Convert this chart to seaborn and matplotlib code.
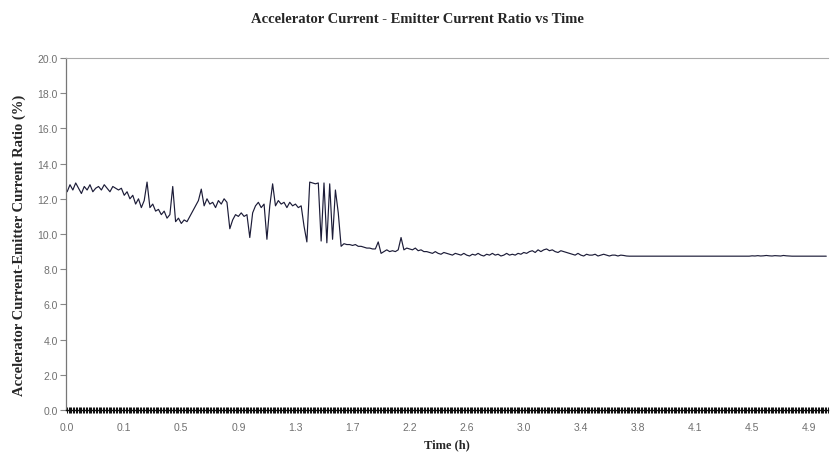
import matplotlib
matplotlib.use("Agg")
import matplotlib.pyplot as plt
import seaborn as sns
import numpy as np
import pandas as pd

# ---- data (one value per category) ----
seg_start = [12.4, 12.8, 12.5, 12.9, 12.6, 12.3, 12.7, 12.5, 12.8, 12.4,
             12.6, 12.7, 12.5, 12.8, 12.6, 12.4, 12.7, 12.6]
seg_decline = [12.5, 12.6, 12.2, 12.4, 12.0, 12.2, 11.7, 12.0, 11.5, 11.9,
               12.95, 11.5, 11.7, 11.3, 11.4, 11.1, 11.3, 10.9, 11.1, 12.7]
seg_mid = [10.7, 10.9, 10.6, 10.8, 10.7, 11.0,
           11.3, 11.6, 11.9, 12.55, 11.6, 12.0, 11.7, 11.8, 11.5, 11.9, 11.7, 12.0, 11.8,
           10.3,
           10.8, 11.1, 11.0, 11.2, 11.0, 11.1,
           9.8,
           11.2, 11.6, 11.8, 11.5, 11.7,
           9.7, 11.6, 12.85,
           11.6, 11.9, 11.7, 11.8, 11.5, 11.8, 11.6, 11.7, 11.5, 11.6,
           10.45, 9.55]
seg_unstable = [12.95, 12.9, 12.85, 12.9, 9.6, 12.9, 9.5, 12.85, 9.7, 12.5, 11.2]
seg_drop = [9.3, 9.45, 9.4, 9.4, 9.35, 9.4, 9.3, 9.3, 9.25, 9.2, 9.2, 9.15, 9.15,
            9.55, 8.9,
            9.0, 9.1, 9.0, 9.05, 9.0, 9.1,
            9.8,
            9.1, 9.2, 9.15, 9.1, 9.2, 9.05, 9.1, 9.0]
seg_settle = [9.0, 8.95, 8.9, 9.0, 8.9, 8.85, 8.95, 8.9, 8.85, 8.8,
              8.9, 8.85, 8.8, 8.9, 8.8, 8.75, 8.85, 8.8, 8.9, 8.8,
              8.75, 8.85, 8.8, 8.9, 8.8, 8.85, 8.75, 8.8, 8.9, 8.8,
              8.85, 8.8, 8.9, 8.85, 8.95,
              8.9, 9.0, 9.05, 8.95, 9.1, 9.0, 9.1, 9.15, 9.05, 9.1,
              9.0, 8.95, 9.05, 9.0, 8.95, 8.9,
              8.85, 8.8, 8.9, 8.8, 8.75, 8.85, 8.8, 8.8, 8.85, 8.75,
              8.8, 8.85, 8.8, 8.75, 8.8, 8.8, 8.75, 8.8, 8.78, 8.75]
seg_flat = [8.74, 8.74, 8.74, 8.74, 8.74, 8.74, 8.74, 8.74, 8.74, 8.74,
            8.74, 8.74, 8.74, 8.74, 8.74, 8.74, 8.74, 8.74, 8.74, 8.74,
            8.74, 8.74, 8.74, 8.74, 8.74, 8.74, 8.74, 8.74, 8.74, 8.74,
            8.74, 8.74, 8.74, 8.74, 8.74, 8.74, 8.74, 8.74, 8.74, 8.74,
            8.74, 8.74, 8.74, 8.76, 8.75, 8.77, 8.75, 8.76, 8.78, 8.76,
            8.75, 8.77, 8.76, 8.75, 8.78, 8.76, 8.75, 8.74, 8.74, 8.74,
            8.74, 8.74, 8.74, 8.74, 8.74, 8.74, 8.74, 8.74, 8.74, 8.74]

x_tick_labels = ["0.0", "0.1", "0.5", "0.9", "1.3", "1.7", "2.2",
                 "2.6", "3.0", "3.4", "3.8", "4.1", "4.5", "4.9"]
y_ticks = [0.0, 2.0, 4.0, 6.0, 8.0, 10.0, 12.0, 14.0, 16.0, 18.0, 20.0]

ratio = seg_start + seg_decline + seg_mid + seg_unstable + seg_drop + seg_settle + seg_flat
df = pd.DataFrame({"idx": np.arange(len(ratio)), "ratio": ratio})

# ---- drawing ----
sns.set_style("white")
plt.rcParams["font.family"] = ["Liberation Sans", "DejaVu Sans"]

fig = plt.figure(figsize=(8.30, 4.64), dpi=100)
ax = fig.add_axes([66 / 830, 1 - 411 / 464, 762 / 830, 352 / 464])

sns.lineplot(data=df, x="idx", y="ratio", ax=ax, color="#1c1c38", linewidth=0.85)

ax.set_ylim(0, 20)
ax.set_xlim(-0.4, len(ratio) - 0.4)
ax.set_yticks(y_ticks)
ax.set_yticklabels([f"{v:.1f}" for v in y_ticks])

step = 20
ax.set_xticks([i * step for i in range(len(x_tick_labels))])
ax.set_xticklabels(x_tick_labels)
ax.set_xticks(np.arange(0, len(ratio), 0.5), minor=True)

ax.tick_params(axis="y", which="major", direction="out", length=4, width=0.8,
               color="#888888", labelsize=7.5, labelcolor="#707070", pad=2, left=True)
ax.tick_params(axis="x", which="both", direction="inout", length=4, width=0.75,
               color="#111111", bottom=True)
ax.tick_params(axis="x", which="major", labelsize=7.5, labelcolor="#707070", pad=7)

ax.spines["left"].set_color("#777777")
ax.spines["left"].set_linewidth(0.9)
ax.spines["top"].set_color("#aaaaaa")
ax.spines["top"].set_linewidth(0.8)
ax.spines["right"].set_visible(False)
ax.spines["bottom"].set_color("#111111")
ax.spines["bottom"].set_linewidth(1.0)

serif = ["Liberation Serif", "DejaVu Serif"]
ax.set_xlabel("Time (h)", family=serif, fontweight="bold", fontsize=9, labelpad=4)
ax.set_ylabel("Accelerator Current-Emitter Current Ratio (%)", family=serif,
              fontweight="bold", fontsize=10.5)
ax.yaxis.set_label_coords(-0.052, 0.47)
fig.text(0.503, 0.958, "Accelerator Current - Emitter Current Ratio vs Time",
         family=serif, fontweight="bold", fontsize=10.5, ha="center", va="center")

fig.savefig("out.png", dpi=100, facecolor="white")
